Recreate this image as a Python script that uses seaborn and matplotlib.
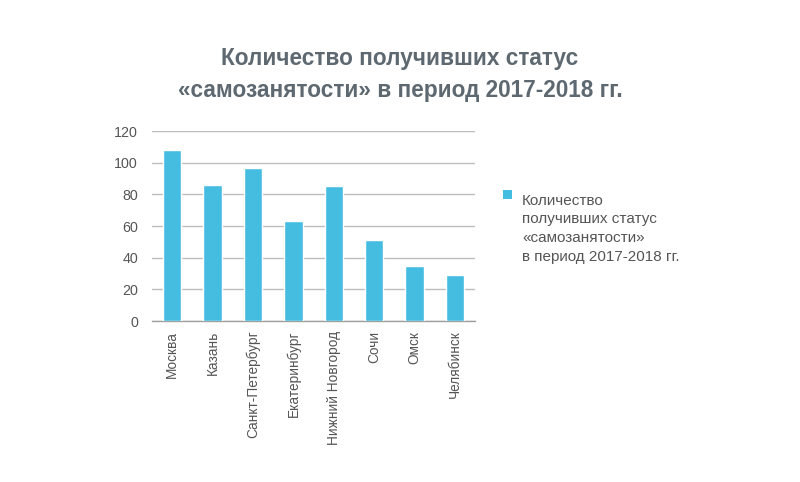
import matplotlib
matplotlib.use("Agg")
import matplotlib.pyplot as plt
import seaborn as sns
import pandas as pd
from matplotlib.patches import Rectangle
from matplotlib.legend_handler import HandlerPatch
from matplotlib.container import BarContainer
from matplotlib.ticker import FixedLocator

cities = ["Москва", "Казань", "Санкт-Петербург", "Екатеринбург", "Нижний Новгород",
          "Сочи", "Омск", "Челябинск"]
values = [108, 86, 97, 63, 85, 51, 35, 29]
y_ticks = [0, 20, 40, 60, 80, 100, 120]
title = "Количество получивших статус\n«самозанятости» в период 2017-2018 гг."
legend_label = "Количество\nполучивших статус\n«самозанятости»\nв период 2017-2018 гг."

sns.set_theme(style="white")
plt.rcParams['font.family'] = ['Liberation Sans', 'DejaVu Sans']

df = pd.DataFrame({"city": cities, "value": values})
bar_color = "#45BDE0"

fig = plt.figure(figsize=(8, 4.82), dpi=100)
ax = fig.add_axes([0.19, 0.334, 0.404, 0.394])

sns.barplot(data=df, x="city", y="value", color=bar_color, width=0.46,
            saturation=1, ax=ax, label=legend_label, zorder=3)

ax.set_ylim(0, 120)
ax.set_xlim(-0.5, len(cities) - 0.5)
ax.set_yticks(y_ticks)
ax.yaxis.grid(True, color="#bdbdbd", linewidth=1)
ax.set_axisbelow(True)
for s in ["top", "right", "left"]:
    ax.spines[s].set_visible(False)
ax.spines["bottom"].set_color("#a0a0a0")
ax.spines["bottom"].set_linewidth(1)
ax.set_xlabel("")
ax.set_ylabel("")
ax.tick_params(axis="y", length=4, color="#bdbdbd", labelsize=10.3, labelcolor="#555555", pad=6)
ax.tick_params(axis="x", length=0, labelsize=9.8, labelcolor="#555555", pad=7)
ax.xaxis.set_minor_locator(FixedLocator([i - 0.5 for i in range(len(cities) + 1)]))
ax.tick_params(axis="x", which="minor", length=5, color="#a0a0a0", direction="out")
plt.setp(ax.get_xticklabels(), rotation=90, va="top", ha="center")

fig.text(0.5, 0.845, title, ha="center", va="center", fontsize=16.3, fontweight="bold",
         color="#5d6870", linespacing=1.5)


def top_square(legend, orig_handle, xdescent, ydescent, width, height, fontsize):
    s = 9 * 72 / 100.0
    return Rectangle((-xdescent, -ydescent + 2.3 * fontsize), s, s)


def copy_style(legend_handle, orig_handle):
    legend_handle.set_facecolor(bar_color)
    legend_handle.set_edgecolor("none")


leg = ax.legend(loc="upper left", bbox_to_anchor=(0.611, 0.627), bbox_transform=fig.transFigure,
                frameon=False, fontsize=11, handlelength=0.62, handletextpad=0.65,
                handler_map={BarContainer: HandlerPatch(patch_func=top_square,
                                                        update_func=copy_style)})
for t in leg.get_texts():
    t.set_color("#555555")
    t.set_linespacing(1.45)

fig.savefig("out.png", dpi=100)
